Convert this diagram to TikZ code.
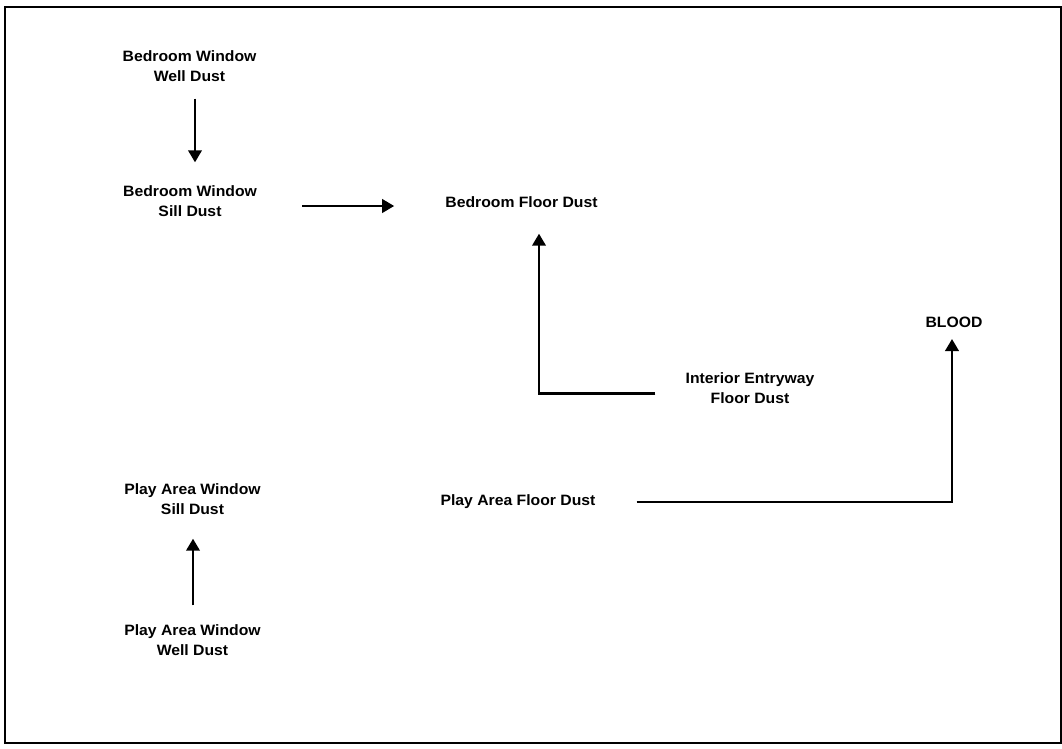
\documentclass[tikz,border=0pt]{standalone}
\usepackage{fontspec}
\newfontfamily\lblfont[FakeStretch=1.05]{Liberation Sans}
\usetikzlibrary{arrows.meta,calc}
\begin{document}
\begin{tikzpicture}[x=1pt,y=-1pt,
  lbl/.style={inner sep=0pt, align=center, font=\lblfont\bfseries\fontsize{15}{20}\selectfont},
  arr/.style={line width=2.3pt, -{Triangle[length=12pt,width=13.5pt]}}]
\useasboundingbox (0,0) rectangle (1062,748);
\draw[line width=2pt] (5,6.5) rectangle (1060.5,742.5);
\node[lbl] (wwell) at (189.5,66) {Bedroom Window\\Well Dust};
\node[lbl] (wsill) at (190,201) {Bedroom Window\\Sill Dust};
\node[lbl] (bfloor) at (521.5,202) {Bedroom Floor Dust};
\node[lbl] (ientry) at (750,388) {Interior Entryway\\Floor Dust};
\node[lbl] (blood) at (954,322.5) {BLOOD};
\node[lbl] (pfloor) at (518,502) {Play Area Floor Dust};
\node[lbl] (psill) at (192.5,499) {Play Area Window\\Sill Dust};
\node[lbl] (pwell) at (192.5,640) {Play Area Window\\Well Dust};
\draw[arr, shorten <=17pt, shorten >=23pt] ([xshift=5.5pt]wwell.south) -- ([xshift=5pt]wsill.north);
\draw[arr, shorten <=45pt, shorten >=51pt] ([yshift=-5pt]wsill.east) -- ([yshift=-5pt]wsill.east -| bfloor.west);
\draw[arr, shorten <=30pt, shorten >=26pt] ([yshift=-5.5pt]ientry.west) -| ([xshift=17.5pt]bfloor.south);
\draw[arr, shorten <=41pt, shorten >=11pt] (pfloor.east) -| ([xshift=-2pt]blood.south);
\draw[arr, shorten <=19pt, shorten >=24pt] ([xshift=0.5pt]pwell.north) -- ([xshift=0.5pt]psill.south);
\end{tikzpicture}
\end{document}
